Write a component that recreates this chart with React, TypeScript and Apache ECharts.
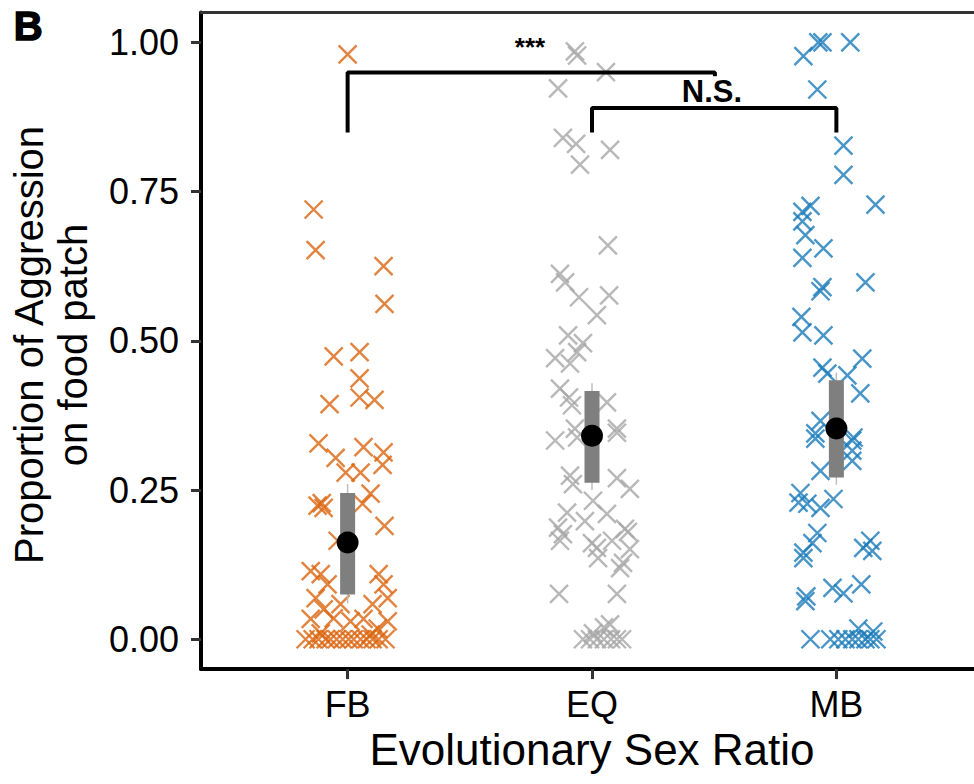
import React, { useEffect, useRef } from "react";
import * as echarts from "echarts";

const FONT = '"Liberation Sans", Arial, Helvetica, sans-serif';

const categories = ["FB", "EQ", "MB"];
const yTicks = [0, 0.25, 0.5, 0.75, 1.0];

// jitter offsets (category units) and observed proportions
const fbJitter = [0, -0.139, -0.131, 0.147, 0.151, -0.057, 0.049, 0.049, -0.074, 0.049, 0.11, -0.119, -0.049, 0.065, 0.147, 0.143, -0.008, 0.053, -0.123, -0.098, -0.106, 0.094, 0.061, 0.151, -0.041, 0.127, 0.147, 0.164, 0.102, -0.151, -0.11, -0.082, -0.131, -0.098, -0.029, 0.012, 0.065, 0.123, 0.164, -0.057, -0.151, -0.172, -0.143, -0.119, -0.09, -0.07, -0.045, -0.02, 0.004, 0.025, 0.053, 0.078, 0.102, 0.127, 0.155, -0.11, 0.094];
const fbValues = [0.98, 0.72, 0.652, 0.625, 0.562, 0.474, 0.481, 0.437, 0.394, 0.405, 0.401, 0.328, 0.304, 0.322, 0.313, 0.292, 0.279, 0.279, 0.224, 0.22, 0.228, 0.244, 0.227, 0.19, 0.165, 0.109, 0.092, 0.069, 0.059, 0.114, 0.109, 0.092, 0.069, 0.05, 0.059, 0.03, 0.034, 0.018, 0.03, 0.035, 0.034, 0, 0, 0, 0, 0, 0, 0, 0, 0, 0, 0, 0, 0, 0, 0.01, 0.008];

const eqJitter = [-0.07, -0.061, 0.057, -0.139, -0.119, -0.065, -0.049, 0.074, 0.065, -0.131, -0.11, -0.053, 0.07, 0.02, -0.098, -0.037, -0.061, -0.151, -0.09, -0.131, -0.094, -0.082, 0.061, 0.102, -0.07, -0.151, -0.061, 0.102, -0.09, -0.078, 0.102, 0.155, 0.004, 0.061, -0.102, -0.139, -0.119, -0.131, -0.029, 0, 0.02, 0.025, 0.082, 0.135, 0.155, 0.127, 0.115, -0.135, 0.102, 0.074, -0.037, -0.008, 0.02, 0.049, 0.078, 0.102, 0.123, 0.147, 0.049, 0.004];
const eqValues = [0.985, 0.978, 0.95, 0.923, 0.84, 0.83, 0.795, 0.82, 0.66, 0.612, 0.598, 0.573, 0.576, 0.543, 0.509, 0.496, 0.481, 0.471, 0.462, 0.42, 0.405, 0.392, 0.397, 0.353, 0.353, 0.333, 0.338, 0.346, 0.274, 0.26, 0.27, 0.252, 0.232, 0.21, 0.212, 0.187, 0.176, 0.165, 0.198, 0.161, 0.153, 0.136, 0.165, 0.185, 0.151, 0.128, 0.119, 0.076, 0.076, 0.025, 0, 0, 0, 0, 0, 0, 0, 0.18, 0.02, 0.01];

const mbJitter = [-0.074, -0.057, 0.057, -0.135, -0.078, 0.029, 0.029, -0.106, -0.139, 0.16, -0.139, -0.127, -0.053, -0.139, 0.119, -0.057, -0.065, -0.143, -0.139, -0.053, -0.057, -0.037, 0.045, 0.106, 0.098, -0.065, -0.086, 0.07, -0.086, 0.065, 0.065, 0.065, -0.065, -0.147, -0.155, -0.119, -0.065, -0.012, -0.078, -0.098, -0.135, -0.135, 0.139, 0.11, 0.147, -0.123, -0.127, -0.016, 0.029, 0.102, -0.106, -0.025, 0.008, 0.037, 0.065, 0.09, 0.119, 0.139, 0.164, 0.09, 0.151];
const mbValues = [1.0, 1.0, 1.0, 0.977, 0.921, 0.827, 0.778, 0.726, 0.716, 0.728, 0.7, 0.677, 0.655, 0.639, 0.598, 0.59, 0.583, 0.54, 0.514, 0.509, 0.455, 0.445, 0.442, 0.47, 0.412, 0.366, 0.345, 0.338, 0.336, 0.333, 0.316, 0.299, 0.282, 0.245, 0.229, 0.227, 0.22, 0.235, 0.178, 0.161, 0.145, 0.136, 0.165, 0.153, 0.148, 0.072, 0.064, 0.086, 0.077, 0.092, 0, 0, 0, 0, 0, 0, 0, 0, 0, 0.018, 0.013];

const means = [0.162, 0.341, 0.353];
const seLow = [0.075, 0.262, 0.271];
const seHigh = [0.245, 0.416, 0.434];
const ciLow = [0.06, 0.25, 0.259];
const ciHigh = [0.26, 0.429, 0.447];

const groupColors = ["#DB650F", "#A6A6A6", "#1A7AB9"];

// significance brackets (category x, proportion y)
const bracket1 = [[1, 0.849], [1, 0.9496], [2.503, 0.9496], [2.503, 0.943]];
const bracket2 = [[2, 0.849], [2, 0.89], [3, 0.89], [3, 0.849]];

const CROSS = "path://M0 0L10 10M10 0L0 10";

export default function App() {
  const ref = useRef<HTMLDivElement>(null);
  useEffect(() => {
    document.body.style.margin = "0";
    const chart = echarts.init(ref.current!, null, { renderer: "svg" });
    const jitters = [fbJitter, eqJitter, mbJitter];
    const values = [fbValues, eqValues, mbValues];
    const scatterSeries = categories.map((c, gi) => ({
      type: "scatter",
      name: c,
      symbol: CROSS,
      symbolSize: 18,
      itemStyle: { color: "transparent", borderColor: groupColors[gi], borderWidth: 2.4 },
      data: values[gi].map((v, i) => [gi + 1 + jitters[gi][i], v]),
      z: 2,
    }));
    const summaryData = categories.map((_, i) => [i + 1, means[i], seLow[i], seHigh[i], ciLow[i], ciHigh[i]]);
    chart.setOption({
      animation: false,
      grid: { left: 201, top: 12.5, width: 782, height: 656.6, outerBoundsMode: "none", containLabel: false },
      xAxis: [
        {
          type: "value",
          min: 0.4,
          max: 3.6,
          axisLine: { show: true, onZero: false, lineStyle: { color: "#000", width: 4 } },
          axisTick: { show: true, length: 10, customValues: [1, 2, 3], lineStyle: { color: "#333", width: 3 } },
          axisLabel: {
            customValues: [1, 2, 3],
            formatter: (v: number) => categories[Math.round(v) - 1],
            fontSize: 36,
            color: "#000",
            fontFamily: FONT,
            margin: 17,
          },
          splitLine: { show: false },
          name: "Evolutionary Sex Ratio",
          nameLocation: "middle",
          nameGap: 57,
          nameTextStyle: { fontSize: 44, color: "#000", fontFamily: FONT },
        },
        {
          type: "value",
          position: "top",
          min: 0.4,
          max: 3.6,
          axisLine: { show: true, onZero: false, lineStyle: { color: "#333", width: 3 } },
          axisTick: { show: false },
          axisLabel: { show: false },
          splitLine: { show: false },
        },
      ],
      yAxis: {
        type: "value",
        min: -0.05,
        max: 1.05,
        axisLine: { show: true, onZero: false, lineStyle: { color: "#000", width: 4 } },
        axisTick: { show: true, length: 10, customValues: yTicks, lineStyle: { color: "#333", width: 3 } },
        axisLabel: {
          customValues: yTicks,
          formatter: (v: number) => v.toFixed(2),
          fontSize: 36,
          color: "#000",
          fontFamily: FONT,
          margin: 22,
        },
        splitLine: { show: false },
      },
      series: [
        ...scatterSeries,
        {
          type: "custom",
          z: 3,
          data: summaryData,
          encode: { x: 0, y: 1 },
          renderItem: (params: any, api: any) => {
            const x = api.value(0);
            const m = api.coord([x, api.value(1)]);
            const sl = api.coord([x, api.value(2)]);
            const sh = api.coord([x, api.value(3)]);
            const cl = api.coord([x, api.value(4)]);
            const ch = api.coord([x, api.value(5)]);
            return {
              type: "group",
              children: [
                { type: "line", shape: { x1: cl[0], y1: cl[1], x2: ch[0], y2: ch[1] }, style: { stroke: "#BEBEBE", lineWidth: 1.5 } },
                { type: "rect", shape: { x: sh[0] - 7.5, y: sh[1], width: 15, height: sl[1] - sh[1] }, style: { fill: "#7F7F7F" } },
                { type: "circle", shape: { cx: m[0], cy: m[1], r: 11 }, style: { fill: "#000" } },
              ],
            };
          },
        },
        {
          type: "line",
          data: bracket1,
          symbol: "none",
          lineStyle: { color: "#000", width: 4 },
          z: 4,
        },
        {
          type: "line",
          data: bracket2,
          symbol: "none",
          lineStyle: { color: "#000", width: 4 },
          z: 4,
        },
      ],
      graphic: [
        { type: "text", left: 13, top: 5, style: { text: "B", fontSize: 40, fontWeight: "bold", fill: "#000", stroke: "#000", lineWidth: 1.5, fontFamily: FONT } },
        { type: "text", x: 530, y: 47, style: { text: "***", fontSize: 26, fontWeight: "bold", fill: "#000", fontFamily: FONT, align: "center", verticalAlign: "middle" } },
        { type: "text", x: 712, y: 91, style: { text: "N.S.", fontSize: 31, fontWeight: "bold", fill: "#000", fontFamily: FONT, align: "center", verticalAlign: "middle" } },
        {
          type: "text",
          x: 51,
          y: 345,
          rotation: Math.PI / 2,
          style: {
            text: "Proportion of Aggression\non food patch",
            fontSize: 40,
            lineHeight: 44,
            fill: "#000",
            fontFamily: FONT,
            align: "center",
            verticalAlign: "middle",
          },
        },
      ],
    });
    return () => chart.dispose();
  }, []);
  return <div ref={ref} style={{ width: 974, height: 784 }} />;
}
